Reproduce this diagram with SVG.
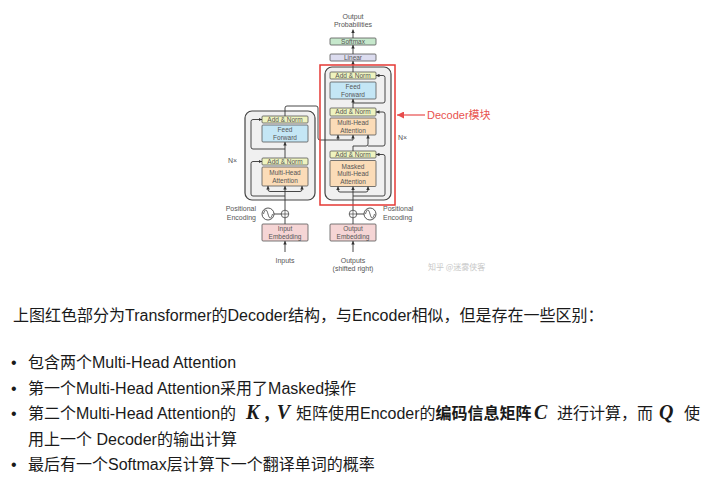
<svg xmlns="http://www.w3.org/2000/svg" width="711" height="490" viewBox="0 0 711 490">
<style>
.bx{stroke:#555;stroke-width:0.8}
.an{fill:#eef3bf}
.ff{fill:#c4e6f5}
.mh{fill:#fbdcb8}
.em{fill:#f5d5d5}
.li{fill:#dcdcef}
.sm{fill:#c6e8cc}
.gb{fill:#f0f0f0;stroke:#444;stroke-width:1.2}
.t{font-family:"Liberation Sans",Arial,sans-serif;font-size:6.5px;fill:#555;text-anchor:middle}
.lb{font-family:"Liberation Sans",Arial,sans-serif;font-size:7px;fill:#555}
.c{fill:none;stroke:#333;stroke-width:0.9}
.body{font-family:"Liberation Sans","Noto Sans CJK SC",sans-serif;font-size:16px;fill:#1a1a1a}
.m{font-family:"Liberation Serif",serif;font-size:20px;font-weight:bold;font-style:italic;fill:#1a1a1a}
</style>
<defs>
<marker id="ah" viewBox="0 0 6 6" markerWidth="3.5" markerHeight="3.5" refX="6" refY="3" orient="auto" markerUnits="userSpaceOnUse"><path d="M0,0 L6,3 L0,6 z" fill="#333"/></marker>
<marker id="rh" viewBox="0 0 8 8" markerWidth="7" markerHeight="7" refX="8" refY="4" orient="auto" markerUnits="userSpaceOnUse"><path d="M0,0 L8,4 L0,8 z" fill="#e84c4c"/></marker>
</defs>

<!-- Encoder -->
<g id="encoder-block"><rect class="gb" x="245" y="111" width="70" height="89" rx="7"/></g>
<g id="enc-addnorm1"><rect class="bx an" x="262" y="116" width="46" height="7" rx="1"/><text class="t" x="285" y="121.8">Add &amp; Norm</text></g>
<g id="enc-ff"><rect class="bx ff" x="262" y="125" width="46" height="17" rx="1"/><text class="t" x="285" y="132">Feed</text><text class="t" x="285" y="139.5">Forward</text></g>
<g id="enc-addnorm2"><rect class="bx an" x="262" y="158" width="46" height="7" rx="1"/><text class="t" x="285" y="163.8">Add &amp; Norm</text></g>
<g id="enc-mha"><rect class="bx mh" x="262" y="167" width="46" height="19" rx="1"/><text class="t" x="285" y="175">Multi-Head</text><text class="t" x="285" y="182.5">Attention</text></g>
<g id="enc-nx"><text class="lb" x="228" y="162.5">N×</text></g>
<g id="enc-pe"><circle cx="268" cy="214" r="6" fill="#fff" stroke="#444" stroke-width="0.9"/><path d="M263.5 214 C265 208.5,266.5 208.5,268 214 S271 219.5,272.5 214" fill="none" stroke="#444" stroke-width="0.8"/><circle cx="285" cy="214" r="3.8" fill="#fff" stroke="#444" stroke-width="0.8"/><path d="M281.2 214 H288.8 M285 210.2 V217.8" stroke="#444" stroke-width="0.7"/><text class="lb" x="256" y="210.5" text-anchor="end">Positional</text><text class="lb" x="256" y="219.5" text-anchor="end">Encoding</text></g>
<g id="enc-embed"><rect class="bx em" x="262" y="224" width="46" height="17" rx="1"/><text class="t" x="285" y="231">Input</text><text class="t" x="285" y="238.5">Embedding</text></g>
<g id="enc-inputs"><text class="lb" x="285" y="262.5" text-anchor="middle">Inputs</text></g>

<!-- Decoder -->
<g id="decoder-block"><rect class="gb" x="325" y="67" width="66" height="133" rx="7"/></g>
<g id="dec-addnorm1"><rect class="bx an" x="330" y="72" width="46" height="7" rx="1"/><text class="t" x="353" y="77.8">Add &amp; Norm</text></g>
<g id="dec-ff"><rect class="bx ff" x="330" y="82" width="46" height="17" rx="1"/><text class="t" x="353" y="89">Feed</text><text class="t" x="353" y="96.5">Forward</text></g>
<g id="dec-addnorm2"><rect class="bx an" x="330" y="108" width="46" height="8" rx="1"/><text class="t" x="353" y="114.3">Add &amp; Norm</text></g>
<g id="dec-mha"><rect class="bx mh" x="330" y="118" width="46" height="17" rx="1"/><text class="t" x="353" y="125">Multi-Head</text><text class="t" x="353" y="132.5">Attention</text></g>
<g id="dec-addnorm3"><rect class="bx an" x="330" y="151" width="46" height="7" rx="1"/><text class="t" x="353" y="156.8">Add &amp; Norm</text></g>
<g id="dec-masked"><rect class="bx mh" x="330" y="160.5" width="46" height="26" rx="1"/><text class="t" x="353" y="168.5">Masked</text><text class="t" x="353" y="176">Multi-Head</text><text class="t" x="353" y="183.5">Attention</text></g>
<g id="dec-nx"><text class="lb" x="398" y="139.5">N×</text></g>
<g id="dec-pe"><circle cx="353" cy="214" r="3.8" fill="#fff" stroke="#444" stroke-width="0.8"/><path d="M349.2 214 H356.8 M353 210.2 V217.8" stroke="#444" stroke-width="0.7"/><circle cx="370" cy="214" r="6" fill="#fff" stroke="#444" stroke-width="0.9"/><path d="M365.5 214 C367 208.5,368.5 208.5,370 214 S373 219.5,374.5 214" fill="none" stroke="#444" stroke-width="0.8"/><text class="lb" x="383" y="211">Positional</text><text class="lb" x="383" y="220">Encoding</text></g>
<g id="dec-embed"><rect class="bx em" x="330" y="224" width="46" height="17" rx="1"/><text class="t" x="353" y="231">Output</text><text class="t" x="353" y="238.5">Embedding</text></g>
<g id="dec-outputs"><text class="lb" x="353" y="262.5" text-anchor="middle">Outputs</text><text class="lb" x="353" y="270.5" text-anchor="middle">(shifted right)</text></g>
<g id="linear"><rect class="bx li" x="330" y="54" width="46" height="7" rx="1"/><text class="t" x="353" y="59.8">Linear</text></g>
<g id="softmax"><rect class="bx sm" x="330" y="38" width="46" height="7" rx="1"/><text class="t" x="353" y="43.8">Softmax</text></g>
<g id="out-prob"><text class="lb" x="353" y="19" text-anchor="middle">Output</text><text class="lb" x="353" y="27" text-anchor="middle">Probabilities</text></g>

<!-- Connectors -->
<g id="connectors">
<path class="c" d="M285 252 V241" marker-end="url(#ah)"/>
<path class="c" d="M285 224 V218"/>
<path class="c" d="M274 214 H281.2"/>
<path class="c" d="M285 210 V186" marker-end="url(#ah)"/>
<path class="c" d="M285 191.5 H270 Q268 191.5 268 189.5 V186" marker-end="url(#ah)"/>
<path class="c" d="M285 191.5 H300 Q302 191.5 302 189.5 V186" marker-end="url(#ah)"/>
<path class="c" d="M285 196 H253 Q251 196 251 194 V163.5 Q251 161.5 253 161.5 H262" marker-end="url(#ah)"/>
<path class="c" d="M285 158 V142" marker-end="url(#ah)"/>
<path class="c" d="M285 149 H253 Q251 149 251 147 V121.5 Q251 119.5 253 119.5 H262" marker-end="url(#ah)"/>
<path class="c" d="M285 116 V108 Q285 106 287 106 H316 Q318 106 318 108 V138 Q318 140 320 140 H353"/>
<path class="c" d="M338 140 V135" marker-end="url(#ah)"/>
<path class="c" d="M353 140 V135" marker-end="url(#ah)"/>

<path class="c" d="M353 252 V241" marker-end="url(#ah)"/>
<path class="c" d="M353 224 V218"/>
<path class="c" d="M364 214 H356.8"/>
<path class="c" d="M353 210 V186.5" marker-end="url(#ah)"/>
<path class="c" d="M353 192 H340 Q338 192 338 190 V186.5" marker-end="url(#ah)"/>
<path class="c" d="M353 192 H366 Q368 192 368 190 V186.5" marker-end="url(#ah)"/>
<path class="c" d="M353 196 H383 Q385 196 385 194 V156.5 Q385 154.5 383 154.5 H376" marker-end="url(#ah)"/>
<path class="c" d="M353 151 V146 H366 Q368 146 368 144 V135" marker-end="url(#ah)"/>
<path class="c" d="M368 146 H383 Q385 146 385 144 V114 Q385 112 383 112 H376" marker-end="url(#ah)"/>
<path class="c" d="M353 108 V99" marker-end="url(#ah)"/>
<path class="c" d="M353 103 H383 Q385 103 385 101 V77.5 Q385 75.5 383 75.5 H376" marker-end="url(#ah)"/>
<path class="c" d="M353 72 V61" marker-end="url(#ah)"/>
<path class="c" d="M353 54 V45" marker-end="url(#ah)"/>
<path class="c" d="M353 38 V29.5" marker-end="url(#ah)"/>
</g>

<!-- Red highlight -->
<g id="decoder-highlight">
<rect x="320" y="65" width="75" height="140" fill="none" stroke="#e53935" stroke-width="1.5"/>
<path d="M425 115 H397" stroke="#e84c4c" stroke-width="1.2" marker-end="url(#rh)"/>
<text x="427" y="119" font-family="'Liberation Sans','Noto Sans CJK SC',sans-serif" font-size="11" fill="#e8534f">Decoder模块</text>
</g>
<g id="watermark"><text x="428" y="270" font-family="'Noto Sans CJK SC',sans-serif" font-size="8" fill="#c8c8c8">知乎 @迷雾侠客</text></g>

<!-- Body text -->
<g id="body-text">
<text class="body" x="13" y="321">上图红色部分为Transformer的Decoder结构，与Encoder相似，但是存在一些区别：</text>
<text class="body" x="11" y="368">•</text>
<text class="body" x="28" y="368">包含两个Multi-Head Attention</text>
<text class="body" x="11" y="393.5">•</text>
<text class="body" x="28" y="393.5">第一个Multi-Head Attention采用了Masked操作</text>
<text class="body" x="11" y="419">•</text>
<text class="body" x="28" y="419">第二个Multi-Head Attention的</text>
<text class="m" x="246" y="419" textLength="44" lengthAdjust="spacing">K,V</text>
<text class="body" x="296" y="419">矩阵使用Encoder的<tspan font-weight="bold">编码信息矩阵</tspan></text>
<text class="m" x="534" y="419">C</text>
<text class="body" x="557" y="419">进行计算，而</text>
<text class="m" x="659" y="419">Q</text>
<text class="body" x="684" y="419">使</text>
<text class="body" x="28" y="444.5">用上一个 Decoder的输出计算</text>
<text class="body" x="11" y="470">•</text>
<text class="body" x="28" y="470">最后有一个Softmax层计算下一个翻译单词的概率</text>
</g>
</svg>
